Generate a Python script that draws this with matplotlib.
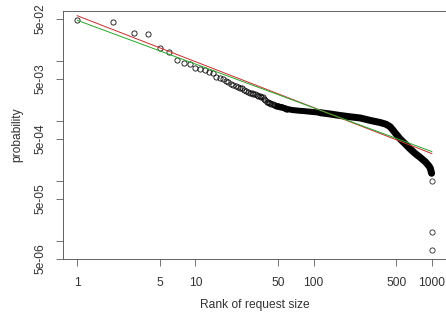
import matplotlib
matplotlib.use('Agg')
import matplotlib.pyplot as plt
import numpy as np

plt.rcParams['font.family'] = ['Liberation Sans', 'DejaVu Sans']

# head of the distribution: one circle per rank
rank_pts = list(range(1, 50)) + [50, 52, 54, 56, 58, 60]
prob_pts = [0.0481, 0.0446, 0.0293, 0.0281, 0.01625, 0.0141, 0.01026, 0.00925, 0.00879, 0.00754,
            0.0074, 0.00706, 0.00654, 0.00629, 0.0053, 0.0051, 0.0050, 0.0046, 0.0044, 0.0042,
            0.0039, 0.0038, 0.0037, 0.0036, 0.0035, 0.0033, 0.0031, 0.0030, 0.0029, 0.0029,
            0.0028, 0.0028, 0.0027, 0.0026, 0.0026, 0.0025, 0.0025, 0.0023, 0.0022, 0.0021,
            0.0021, 0.0020, 0.0020, 0.0019, 0.00188, 0.00185, 0.00183, 0.00180, 0.00177, 0.00175,
            0.00170, 0.00168, 0.00164, 0.00160, 0.00157]

# dense part (hundreds of overlapping circles) -> thick black band
band_rank = [50, 54, 60, 66, 75, 82, 95, 114, 140, 168, 205, 248, 301, 366, 410, 444,
             470, 490, 540, 596, 657, 724, 798, 880, 940, 970, 996]
band_prob = [0.00175, 0.00169, 0.00158, 0.00152, 0.00148, 0.00146, 0.00142, 0.00137, 0.0013,
             0.00123, 0.00117, 0.00112, 0.00102, 0.00094, 0.00088, 0.0008, 0.0007, 0.00063,
             0.0005, 0.000413, 0.00034, 0.000286, 0.000246, 0.000209, 0.00018, 0.000164, 0.000134]

# isolated last points
tail_rank = [998, 999, 1000]
tail_prob = [1.0e-4, 1.39e-5, 7.1e-6]

# fitted lines: log10(p) = a + b*log10(rank)
fit_red = (-1.246, -0.766)
fit_green = (-1.323, -0.729)

xticks = [1, 5, 10, 50, 100, 500, 1000]
yticks = [5e-2, 1e-2, 5e-3, 1e-3, 5e-4, 1e-4, 5e-5, 1e-5, 5e-6]
ylabels = ['5e-02', '', '5e-03', '', '5e-04', '', '5e-05', '', '5e-06']

fig = plt.figure(figsize=(446 / 72, 320 / 72), dpi=72)
ax = fig.add_axes([63 / 446, 1 - 259 / 320, 383 / 446, 248 / 320])

# a bit thinner where the circles are still spread out
ax.plot(band_rank[:8], band_prob[:8], color='black', lw=6, solid_capstyle='round',
        solid_joinstyle='round')
ax.plot(band_rank[7:], band_prob[7:], color='black', lw=7, solid_capstyle='round',
        solid_joinstyle='round')
ax.plot(rank_pts, prob_pts, 'o', mfc='none', mec='black', ms=5.2, mew=0.8)
ax.plot(tail_rank, tail_prob, 'o', mfc='none', mec='#222222', ms=5.2, mew=0.8)

r = np.array([1, 1000])
ax.plot(r, 10 ** (fit_red[0] + fit_red[1] * np.log10(r)), color='#c83232', lw=1)
ax.plot(r, 10 ** (fit_green[0] + fit_green[1] * np.log10(r)), color='#2fa82f', lw=1)

ax.set_xscale('log')
ax.set_yscale('log')
ax.set_xlim(10 ** -0.12, 10 ** 3.12)
ax.set_ylim(5e-6, 10 ** -1.168)

ax.xaxis.set_major_locator(matplotlib.ticker.FixedLocator(xticks))
ax.xaxis.set_major_formatter(matplotlib.ticker.FixedFormatter([str(t) for t in xticks]))
ax.xaxis.set_minor_locator(matplotlib.ticker.NullLocator())
ax.yaxis.set_major_locator(matplotlib.ticker.FixedLocator(yticks))
ax.yaxis.set_major_formatter(matplotlib.ticker.FixedFormatter(ylabels))
ax.yaxis.set_minor_locator(matplotlib.ticker.NullLocator())

ax.tick_params(axis='x', pad=11)
ax.tick_params(axis='y', pad=9)
ax.tick_params(axis='both', length=7, width=0.8, color='#555555', labelsize=12,
               labelcolor='#333333')
for lab in ax.get_yticklabels():
    lab.set_rotation(90)
    lab.set_va('center')

for s in ax.spines.values():
    s.set_color('#555555')
    s.set_linewidth(0.9)

ax.set_xlabel('Rank of request size', fontsize=12, color='#333333', labelpad=10)
ax.set_ylabel('probability', fontsize=12, color='#333333', labelpad=12)

fig.savefig('out.png', dpi=72)
